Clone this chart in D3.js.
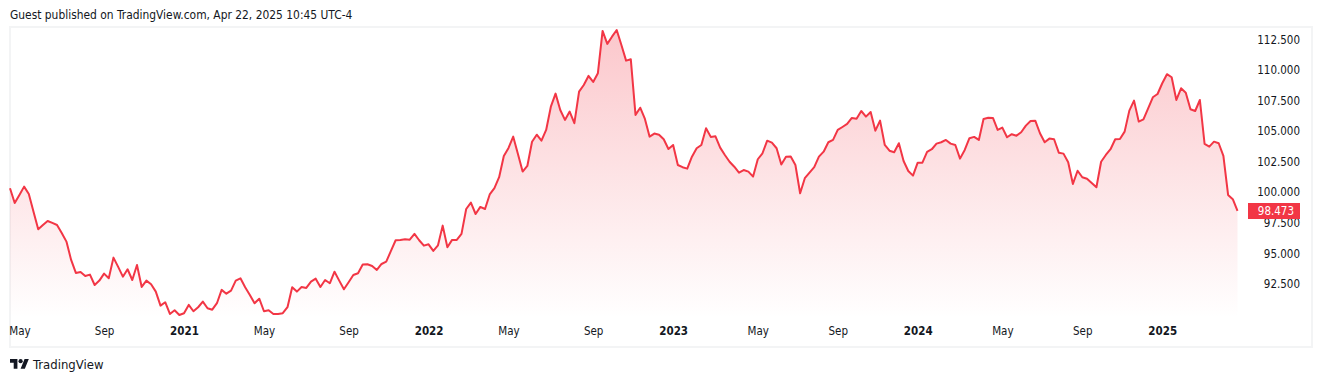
<!DOCTYPE html>
<html>
<head>
<meta charset="utf-8">
<title>TradingView chart</title>
<script src="https://cdnjs.cloudflare.com/ajax/libs/d3/7.8.5/d3.min.js"></script>
<style>
body { margin: 0; background: #fff; }
text { font-family: "DejaVu Sans Condensed", "DejaVu Sans", sans-serif; font-stretch: condensed; fill: #131722; }
</style>
</head>
<body>
<div id="chart-area"></div>
<script>
// weekly closes, Apr 2020 - Apr 2025
var closes = [
    100.33, 99.12, 99.78, 100.46, 99.86, 98.41, 96.97, 97.32, 97.65, 97.49,
    97.32, 96.67, 95.96, 94.46, 93.40, 93.48, 93.15, 93.26, 92.41, 92.77,
    93.34, 92.96, 94.65, 93.89, 93.09, 93.70, 92.82, 94.05, 92.25, 92.77,
    92.47, 91.87, 90.72, 91.00, 90.04, 90.34, 89.96, 90.10, 90.78, 90.26,
    90.59, 91.05, 90.51, 90.39, 90.92, 92.01, 91.70, 91.95, 92.77, 92.96,
    92.23, 91.60, 90.92, 91.29, 90.26, 90.34, 90.04, 90.04, 90.10, 90.59,
    92.23, 91.87, 92.25, 92.17, 92.68, 92.93, 92.25, 92.82, 92.55, 93.50,
    92.77, 92.06, 92.64, 93.23, 93.37, 94.08, 94.11, 93.97, 93.64, 94.13,
    94.32, 95.20, 96.07, 96.10, 96.15, 96.12, 96.59, 96.07, 95.63, 95.74,
    95.20, 95.66, 97.27, 95.50, 96.10, 96.10, 96.59, 98.63, 99.15, 98.22,
    98.80, 98.63, 99.82, 100.33, 101.23, 102.97, 103.63, 104.55, 103.13, 101.69,
    102.15, 104.13, 104.71, 104.22, 105.10, 107.00, 108.07, 106.73, 105.92, 106.60,
    105.65, 108.23, 108.78, 109.52, 109.03, 109.74, 113.20, 112.14, 112.73, 113.28,
    112.05, 110.77, 110.88, 106.33, 106.92, 106.00, 104.55, 104.80, 104.71, 104.34,
    103.54, 103.87, 102.23, 102.05, 101.93, 102.91, 103.60, 103.87, 105.24, 104.53,
    104.58, 103.65, 103.05, 102.50, 102.09, 101.60, 101.82, 101.69, 101.28, 102.70,
    103.19, 104.22, 104.06, 103.60, 102.27, 102.91, 102.93, 102.23, 99.92, 101.15,
    101.60, 102.05, 102.91, 103.32, 104.09, 104.28, 105.10, 105.34, 105.59, 106.08,
    106.02, 106.65, 106.19, 106.57, 105.04, 105.86, 103.87, 103.40, 103.27, 104.01,
    102.56, 101.74, 101.36, 102.42, 102.42, 103.30, 103.52, 103.98, 104.09, 104.28,
    103.98, 103.87, 102.75, 103.46, 104.42, 104.53, 104.28, 106.00, 106.10, 106.08,
    105.10, 105.29, 104.50, 104.75, 104.63, 104.91, 105.45, 105.83, 105.86, 104.83,
    104.09, 104.39, 104.34, 103.24, 103.16, 102.45, 100.68, 101.76, 101.23, 101.11,
    100.76, 100.41, 102.50, 103.05, 103.52, 104.34, 104.36, 104.96, 106.68, 107.50,
    105.78, 105.97, 106.87, 107.77, 108.04, 108.92, 109.66, 109.41, 107.55, 108.51,
    108.15, 106.79, 106.65, 107.55, 103.95, 103.73, 104.14, 104.01, 102.97, 99.78,
    99.43, 98.473
];

var yTicks = [92.5, 95, 97.5, 100, 102.5, 105, 107.5, 110, 112.5];
var timeTicks = [2, 20, 37, 54, 72, 89, 106, 124, 141, 159, 176, 193, 211, 228, 245];
var timeLabels = ["May", "Sep", "2021", "May", "Sep", "2022", "May", "Sep", "2023", "May", "Sep", "2024", "May", "Sep", "2025"];

var lineColor = "#f23645";
var paneBottom = 318;

var svg = d3.select("#chart-area")
    .append("svg")
    .attr("width", 1322)
    .attr("height", 382)
    .style("display", "block");

var x = d3.scaleLinear()
    .domain([0, closes.length - 1])
    .range([10, 1237.5]);

var y = d3.scaleLinear()
    .domain([92.5, 112.5])
    .range([283.9, 39.5]);

var defs = svg.append("defs");
var grad = defs.append("linearGradient")
    .attr("id", "areaFill")
    .attr("gradientUnits", "userSpaceOnUse")
    .attr("x1", 0).attr("x2", 0)
    .attr("y1", 28).attr("y2", paneBottom);
grad.append("stop").attr("offset", "0%").attr("stop-color", lineColor).attr("stop-opacity", 0.28);
grad.append("stop").attr("offset", "100%").attr("stop-color", lineColor).attr("stop-opacity", 0);

// header
svg.append("text")
    .attr("x", 10)
    .attr("y", 19)
    .attr("font-size", "11.9px")
    .text("Guest published on TradingView.com, Apr 22, 2025 10:45 UTC-4");

// frame
svg.append("rect")
    .attr("x", 10)
    .attr("y", 27)
    .attr("width", 1302)
    .attr("height", 320)
    .attr("fill", "none")
    .attr("stroke", "#f3f4f5")
    .attr("stroke-width", 2);

var area = d3.area()
    .x(function(d, i) { return x(i); })
    .y0(paneBottom)
    .y1(function(d) { return y(d); });

var line = d3.line()
    .x(function(d, i) { return x(i); })
    .y(function(d) { return y(d); });

svg.append("path")
    .datum(closes)
    .attr("d", area)
    .attr("fill", "url(#areaFill)");

svg.append("path")
    .datum(closes)
    .attr("d", line)
    .attr("fill", "none")
    .attr("stroke", lineColor)
    .attr("stroke-width", 2)
    .attr("stroke-linejoin", "round");

// time axis
var xAxis = d3.axisBottom(x)
    .tickValues(timeTicks)
    .tickSize(0)
    .tickPadding(0)
    .tickFormat(function(d, i) { return timeLabels[i]; });

var xG = svg.append("g")
    .attr("transform", "translate(0,327)")
    .call(xAxis);
xG.attr("font-family", null);
xG.select(".domain").remove();
xG.selectAll("text")
    .attr("font-size", "11.5px")
    .attr("fill", "#131722")
    .style("font-weight", function(d, i) { return /^\d+$/.test(timeLabels[i]) ? "bold" : "normal"; });

// price axis
var yAxis = d3.axisRight(y)
    .tickValues(yTicks)
    .tickSize(0)
    .tickPadding(0)
    .tickFormat(d3.format(".3f"));

var yG = svg.append("g")
    .attr("transform", "translate(1300,0)")
    .call(yAxis);
yG.attr("font-family", null);
yG.select(".domain").remove();
yG.selectAll("text")
    .attr("text-anchor", "end")
    .attr("font-size", "11.5px")
    .attr("fill", "#131722");

// last price tag
var last = closes[closes.length - 1];
svg.append("rect")
    .attr("x", 1248)
    .attr("y", Math.round(y(last)) - 8)
    .attr("width", 52)
    .attr("height", 16)
    .attr("fill", lineColor);
svg.append("text")
    .attr("x", 1294)
    .attr("y", y(last))
    .attr("dy", "0.35em")
    .attr("text-anchor", "end")
    .attr("font-size", "11.5px")
    .style("fill", "#fff")
    .text(d3.format(".3f")(last));

// logo
var logo = svg.append("g")
    .attr("transform", "translate(10,357) scale(0.53)")
    .attr("fill", "#131722");
logo.append("path").attr("d", "M14 22H7V11H0V4h14v18zM28 22h-8l7.5-18h8L28 22z");
logo.append("circle").attr("cx", 20).attr("cy", 8).attr("r", 4);

svg.append("text")
    .attr("x", 33)
    .attr("y", 369)
    .attr("font-size", "13px")
    .text("TradingView");
</script>
</body>
</html>
